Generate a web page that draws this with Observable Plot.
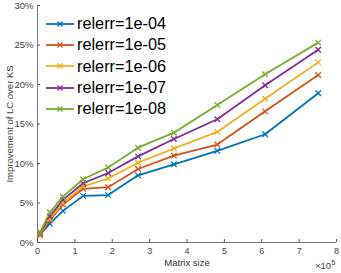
<!DOCTYPE html>
<html><head><meta charset="utf-8">
<script src="https://cdn.jsdelivr.net/npm/d3@7"></script>
<script src="https://cdn.jsdelivr.net/npm/@observablehq/plot@0.6"></script>
<style>
body{margin:0;background:#fff}
#wrap{position:relative;width:341px;height:273px;font-family:"Liberation Sans",Arial,sans-serif}
#legend{position:absolute;left:46px;top:13px}
.row{display:flex;align-items:center;height:21.3px;font-size:16.3px;color:#000;white-space:nowrap}
.row svg{margin-right:3px}
#exp{position:absolute;left:315px;top:258px;font-size:9.5px;color:#444}
#exp sup{font-size:7.5px}
</style>
</head><body><div id="wrap"><div id="legend"></div><div id="exp">×10<sup>5</sup></div></div>
<script>
const matrixSize = [0.07, 0.33, 0.68, 1.22, 1.89, 2.69, 3.65, 4.81, 6.09, 7.51]; // ×10^5
const seriesNames = ["relerr=1e-04", "relerr=1e-05", "relerr=1e-06", "relerr=1e-07", "relerr=1e-08"];
const colors = ["#0072BD", "#D95319", "#EDB120", "#7E2F8E", "#77AC30"];
const rel1e04 = [1.0, 2.4, 4.0, 5.9, 6.0, 8.5, 9.9, 11.6, 13.7, 18.9];
const rel1e05 = [0.9, 2.8, 4.8, 6.8, 7.0, 9.3, 11.0, 12.4, 16.6, 21.2];
const rel1e06 = [1.1, 3.0, 5.0, 7.1, 8.1, 10.1, 11.9, 14.0, 18.2, 22.8];
const rel1e07 = [1.2, 3.3, 5.4, 7.5, 8.8, 10.9, 13.1, 15.6, 19.9, 24.4];
const rel1e08 = [1.3, 3.8, 5.8, 8.0, 9.5, 12.0, 13.9, 17.4, 21.3, 25.3];
const xTicks = [0,1,2,3,4,5,6,7,8];
const yTicks = [0,5,10,15,20,25,30];

const allSeries = [rel1e04, rel1e05, rel1e06, rel1e07, rel1e08];
const data = allSeries.flatMap((vals, i) => vals.map((v, j) => ({x: matrixSize[j], y: v, s: seriesNames[i]})));

const axisColor = "#555";
const chart = Plot.plot({
  width: 341, height: 273,
  marginLeft: 37, marginRight: 5, marginTop: 5, marginBottom: 31,
  style: {fontFamily: '"Liberation Sans", Arial, sans-serif', fontSize: "9px", color: "#444", background: "#fff"},
  x: {domain: [0, 8]},
  y: {domain: [0, 30]},
  color: {domain: seriesNames, range: colors},
  marks: [
    Plot.axisX({ticks: xTicks, tickSize: 0, tickPadding: 5, tickFormat: d => d, label: null}),
    Plot.axisX({ticks: xTicks, tickSize: -3, text: null, label: null, stroke: axisColor}),
    Plot.axisY({ticks: yTicks, tickSize: 0, tickPadding: 4, tickFormat: d => d + "%",
      label: "Improvement of LC over KS", labelAnchor: "center", labelArrow: "none", labelOffset: 31, fontSize: 9.5}),
    Plot.axisY({ticks: yTicks, tickSize: -3, text: null, label: null, stroke: axisColor}),
    Plot.ruleX([0], {stroke: axisColor, strokeWidth: 0.8}),
    Plot.ruleY([0], {stroke: axisColor, strokeWidth: 0.8}),
    Plot.text(["Matrix size"], {frameAnchor: "bottom", dy: 23, fontSize: 9.5, fill: "#333"}),
    Plot.line(data, {x: "x", y: "y", z: "s", stroke: "s", strokeWidth: 1.8}),
    Plot.dot(data, {x: "x", y: "y", stroke: "s", symbol: "times", r: 2.6, strokeWidth: 1.3})
  ]
});
document.getElementById("wrap").prepend(chart);

const legend = document.getElementById("legend");
seriesNames.forEach((name, i) => {
  const row = document.createElement("div");
  row.className = "row";
  row.innerHTML = `<svg width="28" height="10"><line x1="0" y1="5" x2="28" y2="5" stroke="${colors[i]}" stroke-width="1.8"/><path d="M11.5,2.5L16.5,7.5M11.5,7.5L16.5,2.5" stroke="${colors[i]}" stroke-width="1.3"/></svg><span>${name}</span>`;
  legend.appendChild(row);
});
</script>
</body></html>
